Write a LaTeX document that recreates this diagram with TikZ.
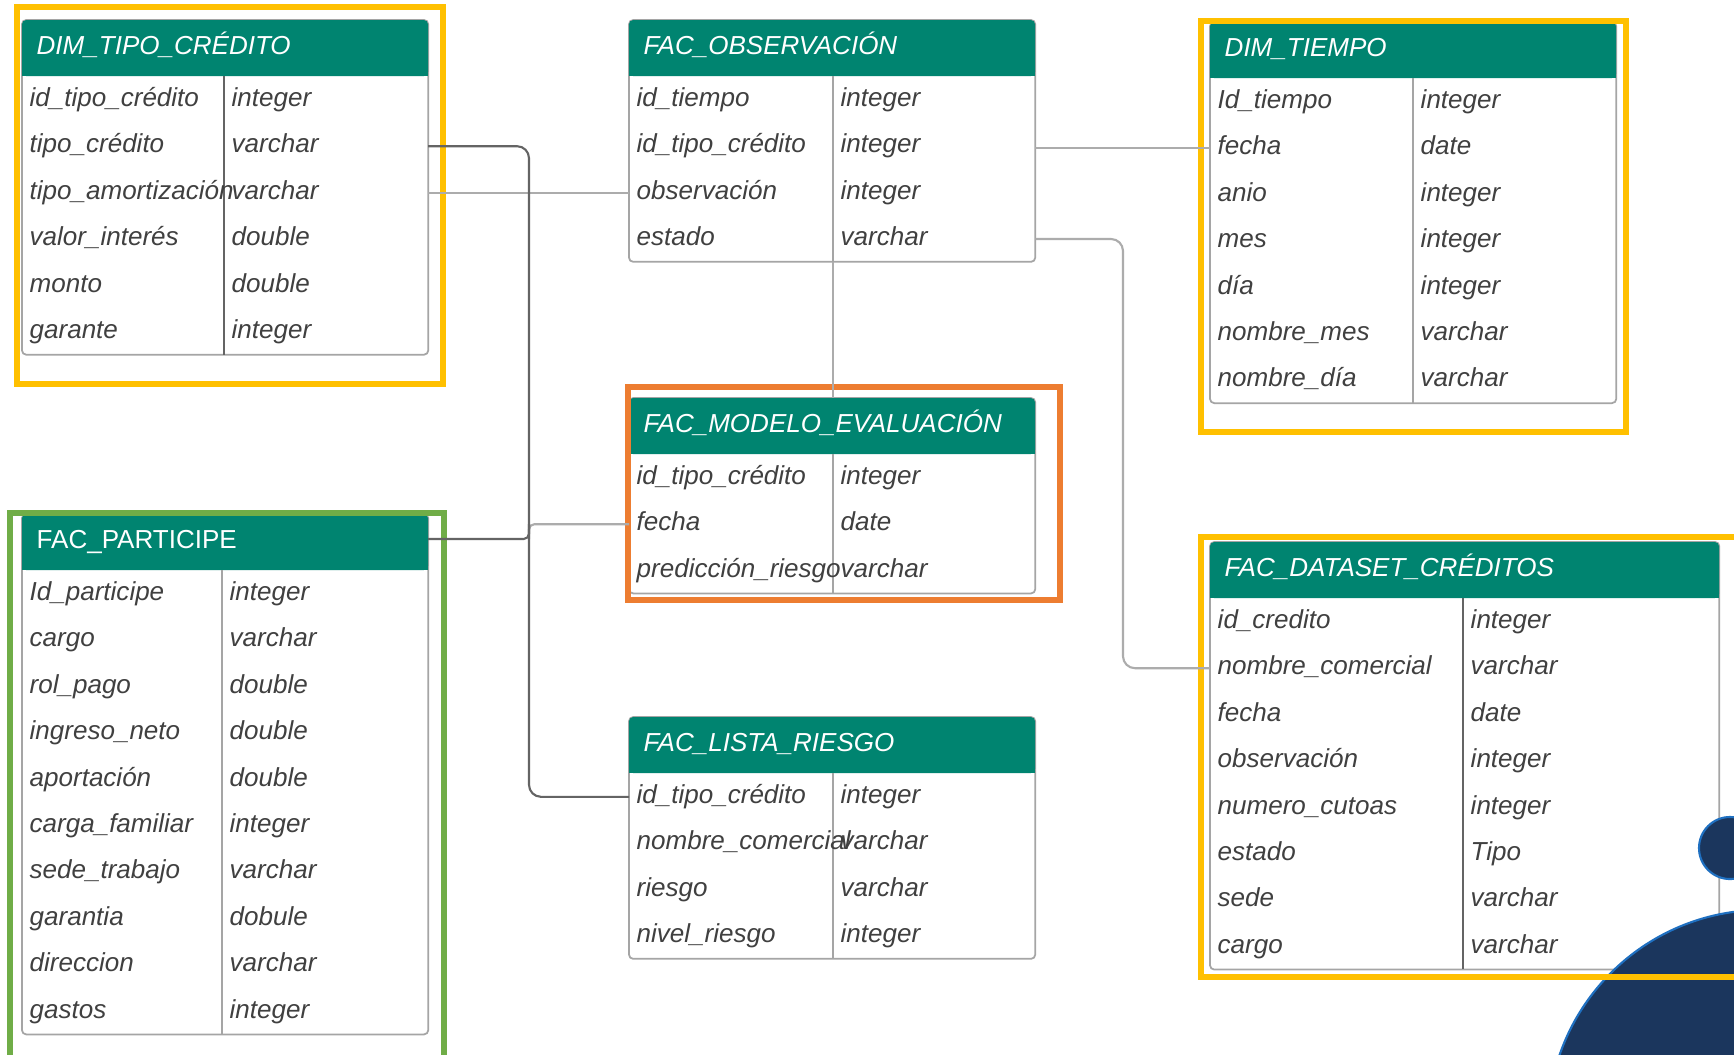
\documentclass[tikz,border=0pt]{standalone}
\usepackage{fontspec}
\setmainfont{Liberation Sans}
\usepackage{tikz}

\definecolor{headgreen}{RGB}{0,132,112}
\definecolor{fieldgray}{RGB}{64,64,64}
\definecolor{linegray}{RGB}{172,172,172}
\definecolor{linedark}{RGB}{100,100,100}
\definecolor{boxgray}{RGB}{165,165,165}
\definecolor{markyellow}{RGB}{255,192,0}
\definecolor{markorange}{RGB}{237,125,49}
\definecolor{markgreen}{RGB}{112,173,71}
\definecolor{navy}{RGB}{27,54,93}
\definecolor{navyline}{RGB}{31,112,193}

\tikzset{
  tbl/.style={draw=boxgray, fill=white, line width=0.5pt, rounded corners=1.2pt, anchor=north west, inner sep=0pt, outer sep=0pt, minimum width=4.06cm},
  hdr/.style={fill=headgreen},
  ttl/.style={anchor=west, inner sep=0pt, text height=5.3pt, text depth=0pt, text=white, font=\fontsize{7.4}{9}\selectfont\itshape},
  fld/.style={anchor=west, inner sep=0pt, yshift=-0.033cm, text height=5.4pt, text depth=1.6pt, text=fieldgray, font=\fontsize{7.4}{9}\selectfont\itshape},
  colsep/.style={draw=boxgray, line width=0.5pt},
  colsepdark/.style={draw=linedark, line width=0.5pt},
  link/.style={draw=linegray, line width=0.6pt},
  linkdark/.style={draw=linedark, line width=0.6pt},
  hilite/.style={line width=1.6pt}
}

\begin{document}
\begin{tikzpicture}[x=0.01cm, y=-0.01cm]
\path[use as bounding box, fill=white] (0,0) rectangle (1734,1054);
\clip (0,0) rectangle (1734,1054);

% DIM_TIPO_CREDITO
\node[tbl, minimum height=3.345cm](TC) at (22,20) {};
\fill[hdr, rounded corners=1.2pt] (22,20) rectangle (428,76);
\fill[hdr] (22,40) rectangle (428,76);
\draw[colsepdark] (224,76) -- (224,354.5);
\node[ttl](TC_name) at (36,45) {DIM\_TIPO\_CRÉDITO};
\node[fld](TC_f1) at (29,96.5) {id\_tipo\_crédito};
\node[fld](TC_t1) at (231,96.5) {integer};
\node[fld](TC_f2) at (29,142.9) {tipo\_crédito};
\node[fld](TC_t2) at (231,142.9) {varchar};
\node[fld](TC_f3) at (29,189.3) {tipo\_amortización};
\node[fld](TC_t3) at (231,189.3) {varchar};
\node[fld](TC_f4) at (29,235.7) {valor\_interés};
\node[fld](TC_t4) at (231,235.7) {double};
\node[fld](TC_f5) at (29,282.1) {monto};
\node[fld](TC_t5) at (231,282.1) {double};
\node[fld](TC_f6) at (29,328.5) {garante};
\node[fld](TC_t6) at (231,328.5) {integer};

% FAC_OBSERVACION
\node[tbl, minimum height=2.417cm](OB) at (629,20) {};
\fill[hdr, rounded corners=1.2pt] (629,20) rectangle (1035,76);
\fill[hdr] (629,40) rectangle (1035,76);
\draw[colsep] (833,76) -- (833,261.7);
\coordinate (OB_d) at (833,261.7);
\node[ttl](OB_name) at (643,45) {FAC\_OBSERVACIÓN};
\node[fld](OB_f1) at (636,96.5) {id\_tiempo};
\node[fld](OB_t1) at (840,96.5) {integer};
\node[fld](OB_f2) at (636,142.9) {id\_tipo\_crédito};
\node[fld](OB_t2) at (840,142.9) {integer};
\node[fld](OB_f3) at (636,189.3) {observación};
\node[fld](OB_t3) at (840,189.3) {integer};
\node[fld](OB_f4) at (636,235.7) {estado};
\node[fld](OB_t4) at (840,235.7) {varchar};

% DIM_TIEMPO
\node[tbl, minimum height=3.809cm](TI) at (1210,22) {};
\fill[hdr, rounded corners=1.2pt] (1210,22) rectangle (1616,78);
\fill[hdr] (1210,42) rectangle (1616,78);
\draw[colsep] (1413,78) -- (1413,402.9);
\node[ttl](TI_name) at (1224,47) {DIM\_TIEMPO};
\node[fld](TI_f1) at (1217,98.5) {Id\_tiempo};
\node[fld](TI_t1) at (1420,98.5) {integer};
\node[fld](TI_f2) at (1217,144.9) {fecha};
\node[fld](TI_t2) at (1420,144.9) {date};
\node[fld](TI_f3) at (1217,191.3) {anio};
\node[fld](TI_t3) at (1420,191.3) {integer};
\node[fld](TI_f4) at (1217,237.7) {mes};
\node[fld](TI_t4) at (1420,237.7) {integer};
\node[fld](TI_f5) at (1217,284.1) {día};
\node[fld](TI_t5) at (1420,284.1) {integer};
\node[fld](TI_f6) at (1217,330.5) {nombre\_mes};
\node[fld](TI_t6) at (1420,330.5) {varchar};
\node[fld](TI_f7) at (1217,376.9) {nombre\_día};
\node[fld](TI_t7) at (1420,376.9) {varchar};

% FAC_MODELO_EVALUACION
\node[tbl, minimum height=1.953cm](ME) at (629,398) {};
\fill[hdr, rounded corners=1.2pt] (629,398) rectangle (1035,454);
\fill[hdr] (629,418) rectangle (1035,454);
\draw[colsep] (833,454) -- (833,593.3);
\node[ttl](ME_name) at (643,423) {FAC\_MODELO\_EVALUACIÓN};
\node[fld](ME_f1) at (636,474.5) {id\_tipo\_crédito};
\node[fld](ME_t1) at (840,474.5) {integer};
\node[fld](ME_f2) at (636,520.9) {fecha};
\node[fld](ME_t2) at (840,520.9) {date};
\node[fld](ME_f3) at (636,567.3) {predicción\_riesgo};
\node[fld](ME_t3) at (840,567.3) {varchar};

% FAC_PARTICIPE
\node[tbl, minimum height=5.201cm](PA) at (22,514) {};
\fill[hdr, rounded corners=1.2pt] (22,514) rectangle (428,570);
\fill[hdr] (22,534) rectangle (428,570);
\draw[colsep] (222,570) -- (222,1034.1);
\node[ttl, font=\fontsize{7.4}{9}\selectfont](PA_name) at (36,539) {FAC\_PARTICIPE};
\node[fld](PA_f1) at (29,590.5) {Id\_participe};
\node[fld](PA_t1) at (229,590.5) {integer};
\node[fld](PA_f2) at (29,636.9) {cargo};
\node[fld](PA_t2) at (229,636.9) {varchar};
\node[fld](PA_f3) at (29,683.3) {rol\_pago};
\node[fld](PA_t3) at (229,683.3) {double};
\node[fld](PA_f4) at (29,729.7) {ingreso\_neto};
\node[fld](PA_t4) at (229,729.7) {double};
\node[fld](PA_f5) at (29,776.1) {aportación};
\node[fld](PA_t5) at (229,776.1) {double};
\node[fld](PA_f6) at (29,822.5) {carga\_familiar};
\node[fld](PA_t6) at (229,822.5) {integer};
\node[fld](PA_f7) at (29,868.9) {sede\_trabajo};
\node[fld](PA_t7) at (229,868.9) {varchar};
\node[fld](PA_f8) at (29,915.3) {garantia};
\node[fld](PA_t8) at (229,915.3) {dobule};
\node[fld](PA_f9) at (29,961.7) {direccion};
\node[fld](PA_t9) at (229,961.7) {varchar};
\node[fld](PA_f10) at (29,1008.1) {gastos};
\node[fld](PA_t10) at (229,1008.1) {integer};

% FAC_LISTA_RIESGO
\node[tbl, minimum height=2.417cm](LR) at (629,717) {};
\fill[hdr, rounded corners=1.2pt] (629,717) rectangle (1035,773);
\fill[hdr] (629,737) rectangle (1035,773);
\draw[colsep] (833,773) -- (833,958.7);
\node[ttl](LR_name) at (643,742) {FAC\_LISTA\_RIESGO};
\node[fld](LR_f1) at (636,793.5) {id\_tipo\_crédito};
\node[fld](LR_t1) at (840,793.5) {integer};
\node[fld](LR_f2) at (636,839.9) {nombre\_comercial};
\node[fld](LR_t2) at (840,839.9) {varchar};
\node[fld](LR_f3) at (636,886.3) {riesgo};
\node[fld](LR_t3) at (840,886.3) {varchar};
\node[fld](LR_f4) at (636,932.7) {nivel\_riesgo};
\node[fld](LR_t4) at (840,932.7) {integer};

% FAC_DATASET_CREDITOS
\node[tbl, minimum width=5.09cm, minimum height=4.273cm](DS) at (1210,542) {};
\fill[hdr, rounded corners=1.2pt] (1210,542) rectangle (1719,598);
\fill[hdr] (1210,562) rectangle (1719,598);
\draw[colsepdark] (1463,598) -- (1463,969.3);
\node[ttl](DS_name) at (1224,567) {FAC\_DATASET\_CRÉDITOS};
\node[fld](DS_f1) at (1217,618.5) {id\_credito};
\node[fld](DS_t1) at (1470,618.5) {integer};
\node[fld](DS_f2) at (1217,664.9) {nombre\_comercial};
\node[fld](DS_t2) at (1470,664.9) {varchar};
\node[fld](DS_f3) at (1217,711.3) {fecha};
\node[fld](DS_t3) at (1470,711.3) {date};
\node[fld](DS_f4) at (1217,757.7) {observación};
\node[fld](DS_t4) at (1470,757.7) {integer};
\node[fld](DS_f5) at (1217,804.1) {numero\_cutoas};
\node[fld](DS_t5) at (1470,804.1) {integer};
\node[fld](DS_f6) at (1217,850.5) {estado};
\node[fld](DS_t6) at (1470,850.5) {Tipo};
\node[fld](DS_f7) at (1217,896.9) {sede};
\node[fld](DS_t7) at (1470,896.9) {varchar};
\node[fld](DS_f8) at (1217,943.3) {cargo};
\node[fld](DS_t8) at (1470,943.3) {varchar};

% corner decoration
\filldraw[fill=navy, draw=navyline, line width=0.6pt] (1763,1125) circle (2.15cm);
\filldraw[fill=navy, draw=navyline, line width=0.6pt] (1730,848) circle (0.31cm);

% highlight frames
\draw[hilite, markyellow] (17,7) rectangle (443,384);
\draw[hilite, markyellow] (1201,21) rectangle (1626,432);
\draw[hilite, markyellow] (1201,537) rectangle (1750,977);
\draw[hilite, markorange] (628,387) rectangle (1060,600);
\draw[hilite, markgreen] (10,513) rectangle (444,1065);

% relations
\coordinate (BUS) at (529,0);
\coordinate (BUS2) at (1123,0);
\draw[link] (TC.east |- TC_f3) -- (OB.west |- TC_f3);
\draw[link] (OB.east |- TI_f2) -- (TI.west |- TI_f2);
\draw[link] (OB_d) -- (OB_d |- ME.north);
\draw[link, rounded corners=3.4pt] (OB.east |- OB_f4) -- (BUS2 |- OB_f4) |- (DS.west |- DS_f2);
\draw[link, rounded corners=1.5pt] (BUS |- PA_name) |- (ME.west |- ME_f2);
\draw[linkdark, rounded corners=3.4pt] (TC.east |- TC_f2) -- (BUS |- TC_f2) |- (LR.west |- LR_f1);
\draw[linkdark, rounded corners=1.5pt] (PA.east |- PA_name) -| (BUS |- ME_f2);

\end{tikzpicture}
\end{document}
